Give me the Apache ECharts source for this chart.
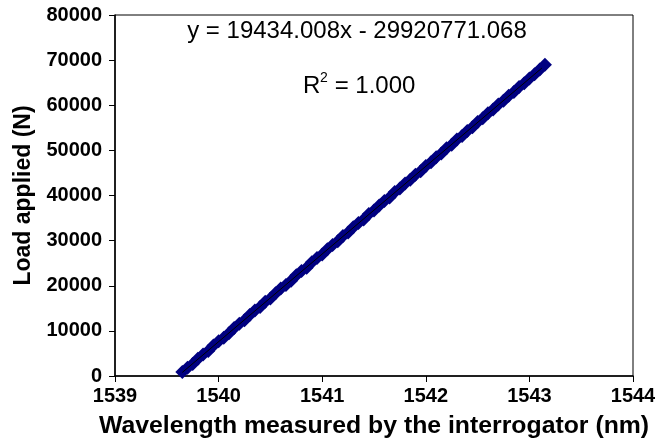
<!DOCTYPE html>
<html>
<head>
<meta charset="utf-8">
<script src="https://cdn.jsdelivr.net/npm/echarts@6/dist/echarts.min.js"></script>
<style>
  html, body { margin: 0; padding: 0; background: #fff; }
  #chart { width: 670px; height: 439px; }
</style>
</head>
<body>
<div id="chart"></div>
<script>
// Wavelength readings (nm) and the load applied at each reading (N)
const wavelength = [
  1539.65, 1539.70, 1539.75, 1539.80, 1539.85, 1539.90, 1539.95, 1540.00,
  1540.05, 1540.10, 1540.15, 1540.20, 1540.25, 1540.30, 1540.35, 1540.40,
  1540.45, 1540.50, 1540.55, 1540.60, 1540.65, 1540.70, 1540.75, 1540.80,
  1540.85, 1540.90, 1540.95, 1541.00, 1541.05, 1541.10, 1541.15, 1541.20,
  1541.25, 1541.30, 1541.35, 1541.40, 1541.45, 1541.50, 1541.55, 1541.60,
  1541.65, 1541.70, 1541.75, 1541.80, 1541.85, 1541.90, 1541.95, 1542.00,
  1542.05, 1542.10, 1542.15, 1542.20, 1542.25, 1542.30, 1542.35, 1542.40,
  1542.45, 1542.50, 1542.55, 1542.60, 1542.65, 1542.70, 1542.75, 1542.80,
  1542.85, 1542.90, 1542.95, 1543.00, 1543.05, 1543.10, 1543.15
];
const load = [
  900, 1850, 2650, 3800, 4750, 5550, 6750, 7700,
  8500, 9450, 10650, 11600, 12350, 13500, 14500, 15300,
  16450, 17200, 18350, 19400, 20150, 21100, 22300, 23250,
  24000, 25200, 26150, 26950, 28100, 29050, 29850, 31050,
  31800, 32950, 33900, 34700, 35900, 36650, 37800, 38800,
  39550, 40750, 41550, 42650, 43500, 44600, 45400, 46550,
  47350, 48500, 49300, 50450, 51250, 52400, 53200, 54300,
  55150, 56300, 57100, 58200, 59050, 60150, 61000, 62100,
  62950, 64050, 64900, 65950, 66850, 67900, 68950
];

// Linear fit reported on the chart
const fitSlope = 19434.008;
const fitIntercept = -29920771.068;
const fitRange = [1539.65, 1543.12];
const fitR2 = '1.000';

const xTicks = [1539, 1544, 1];
const yTicks = [0, 80000, 10000];

const FONT = "'Liberation Sans', Arial, Helvetica, sans-serif";

const points = wavelength.map((w, i) => [w, load[i]]);
const fitLine = fitRange.map(x => [x, fitSlope * x + fitIntercept]);

const chart = echarts.init(document.getElementById('chart'), null, { renderer: 'canvas' });

chart.setOption({
  animation: false,
  backgroundColor: '#ffffff',
  grid: {
    left: 115, right: 37, top: 15, bottom: 63,
    outerBoundsMode: 'none',
    containLabel: false,
    show: true, borderColor: '#000', borderWidth: 1, backgroundColor: 'transparent'
  },
  xAxis: {
    type: 'value',
    min: xTicks[0], max: xTicks[1], interval: xTicks[2],
    name: 'Wavelength measured by the interrogator (nm)',
    nameLocation: 'middle', nameGap: 38,
    nameTextStyle: { fontFamily: FONT, fontWeight: 'bold', fontSize: 24.8, color: '#000' },
    axisLine: { show: true, onZero: false, lineStyle: { color: '#000', width: 1.5 } },
    axisTick: { show: true, inside: false, length: 6, lineStyle: { color: '#000', width: 1 } },
    axisLabel: {
      margin: 10, fontFamily: FONT, fontWeight: 'bold', fontSize: 20, color: '#000',
      formatter: v => String(v)
    },
    splitLine: { show: false }
  },
  yAxis: {
    type: 'value',
    min: yTicks[0], max: yTicks[1], interval: yTicks[2],
    name: 'Load applied (N)',
    nameLocation: 'middle', nameGap: 80,
    nameTextStyle: { fontFamily: FONT, fontWeight: 'bold', fontSize: 23, color: '#000' },
    axisLine: { show: true, onZero: false, lineStyle: { color: '#000', width: 1.5 } },
    axisTick: { show: true, inside: false, length: 6, lineStyle: { color: '#000', width: 1 } },
    axisLabel: {
      margin: 13, fontFamily: FONT, fontWeight: 'bold', fontSize: 20, color: '#000',
      formatter: v => String(v)
    },
    splitLine: { show: false }
  },
  series: [
    {
      type: 'scatter',
      data: points,
      symbol: 'diamond',
      symbolSize: 14,
      itemStyle: { color: '#000080', opacity: 1 },
      z: 2
    },
    {
      type: 'line',
      data: fitLine,
      symbol: 'none',
      lineStyle: { color: '#000', width: 1 },
      z: 3
    }
  ],
  graphic: [
    {
      type: 'text',
      x: 357, y: 19,
      style: {
        text: 'y = ' + fitSlope.toFixed(3) + 'x - ' + (-fitIntercept).toFixed(3),
        font: '24px ' + FONT, fill: '#000', textAlign: 'center', textVerticalAlign: 'top'
      }
    },
    {
      type: 'group',
      x: 303, y: 74,
      children: [
        { type: 'text', x: 0, y: 0, style: { text: 'R', font: '24px ' + FONT, fill: '#000', textVerticalAlign: 'top' } },
        { type: 'text', x: 17, y: -3, style: { text: '2', font: '14px ' + FONT, fill: '#000', textVerticalAlign: 'top' } },
        { type: 'text', x: 25, y: 0, style: { text: ' = ' + fitR2, font: '24px ' + FONT, fill: '#000', textVerticalAlign: 'top' } }
      ]
    }
  ]
});
</script>
</body>
</html>
